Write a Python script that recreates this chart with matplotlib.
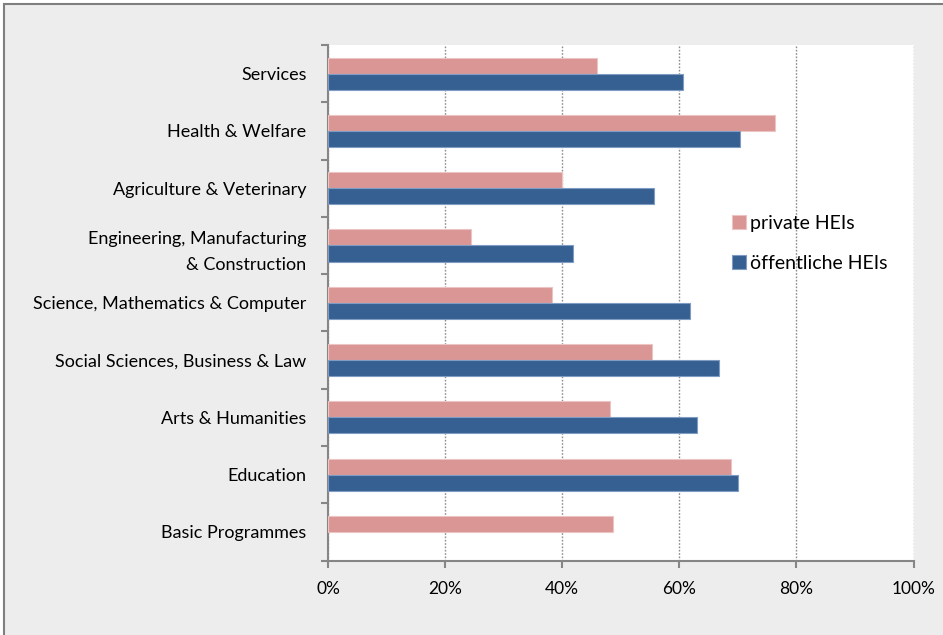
import matplotlib

matplotlib.use("Agg")
import matplotlib.pyplot as plt
from matplotlib.patches import Rectangle
from matplotlib.ticker import FuncFormatter
import numpy as np

# Fields of study, bottom to top
categories = [
    "Basic Programmes",
    "Education",
    "Arts & Humanities",
    "Social Sciences, Business & Law",
    "Science, Mathematics & Computer",
    "Engineering, Manufacturing\n& Construction",
    "Agriculture & Veterinary",
    "Health & Welfare",
    "Services",
]
private_hei = [48.7, 68.9, 48.2, 55.3, 38.2, 24.4, 40.0, 76.3, 45.9]
public_hei = [np.nan, 70.1, 63.0, 66.8, 61.8, 41.9, 55.6, 70.4, 60.7]  # no public basic programmes
series_labels = ["private HEIs", "öffentliche HEIs"]
x_ticks = [0, 20, 40, 60, 80, 100]

pink = "#D99694"
blue = "#376092"
axis_grey = "#868686"

plt.rcParams["font.family"] = ["Lato", "DejaVu Sans"]
plt.rcParams["font.size"] = 12

fig = plt.figure(figsize=(9.43, 6.35), dpi=100, facecolor="white")
# grey chart area with a thin frame
fig.patches.append(
    Rectangle((4 / 943, -0.01), 1.0, 1 - 4 / 635 + 0.01, transform=fig.transFigure,
              facecolor="#EDEDED", edgecolor="#7F7F7F", linewidth=1.5, zorder=-10)
)

ax = fig.add_axes([328 / 943, 1 - 560.5 / 635, 585.5 / 943, 515.5 / 635])
ax.set_facecolor("white")

y = np.arange(len(categories))
h = 0.28
ax.barh(y + h / 2, private_hei, height=h, color=pink, edgecolor="#EBC4C3",
        linewidth=0.8, label=series_labels[0], zorder=3)
ax.barh(y - h / 2, public_hei, height=h, color=blue, edgecolor="#7E9CC4",
        linewidth=0.8, label=series_labels[1], zorder=3)

ax.set_xlim(0, 100)
ax.set_ylim(-0.5, len(categories) - 0.5)
ax.set_xticks(x_ticks)
ax.xaxis.set_major_formatter(FuncFormatter(lambda v, _: f"{v:.0f}%"))
ax.grid(True, axis="x", color="#8C8C8C", linestyle=(0, (1.2, 1.2)), linewidth=1.0, zorder=1)

# category labels sit between the tick marks at the band boundaries
ax.set_yticks(y)
ax.set_yticklabels(categories, ha="right", linespacing=1.75, fontsize=13)
ax.set_yticks(np.arange(-0.5, len(categories), 1.0), minor=True)
ax.tick_params(axis="y", which="major", length=0, pad=15.5)
ax.tick_params(axis="y", which="minor", length=5, width=1.5, color=axis_grey, direction="out")
ax.tick_params(axis="x", length=5, width=1.5, color=axis_grey, direction="out", pad=10,
               labelsize=12.5)

for side in ("top", "right"):
    ax.spines[side].set_visible(False)
for side in ("left", "bottom"):
    ax.spines[side].set_color(axis_grey)
    ax.spines[side].set_linewidth(1.5)

ax.legend(loc="upper left", bbox_to_anchor=(0.66, 0.705), frameon=False,
          handlelength=0.7, handleheight=0.7, handletextpad=0.25,
          labelspacing=1.2, fontsize=14)

fig.savefig("out.png", dpi=100, facecolor="white")
